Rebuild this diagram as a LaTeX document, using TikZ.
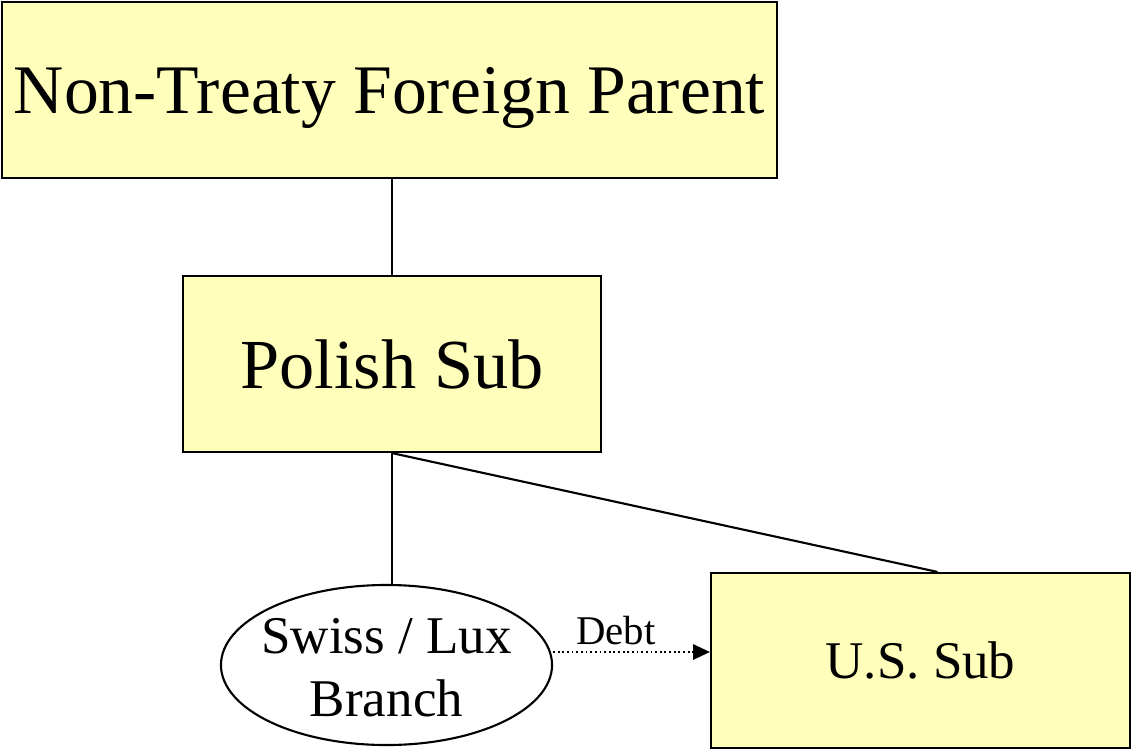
\documentclass[tikz,border=0pt]{standalone}
\usepackage{fontspec}
\setmainfont{Liberation Serif}
\usepackage{xcolor}
\usepackage{tikz}
\definecolor{paleyellow}{RGB}{255,255,187}
\usetikzlibrary{shapes.geometric,arrows.meta}

\tikzset{
  entity/.style={draw, line width=1.5pt, fill=paleyellow, inner sep=0pt, text depth=0pt},
  branch/.style={draw, ellipse, line width=1.5pt, fill=white, inner sep=0pt},
  link/.style={line width=1.5pt}
}

\begin{document}
\begin{tikzpicture}[x=0.025cm, y=-0.025cm]
    \useasboundingbox (0,0) rectangle (1132,750);
    % Parent box
    \node[entity, minimum width=19.375cm, minimum height=4.4cm, font=\fontsize{49.5}{60}\selectfont]
        (parent) at (389.5,90) {Non-Treaty Foreign Parent};

    % Polish sub
    \node[entity, minimum width=10.45cm, minimum height=4.4cm, font=\fontsize{50}{60}\selectfont]
        (polish) at (392,364) {Polish Sub};

    % Branch
    \node[branch, minimum width=8.275cm, minimum height=4cm,
          label={[font=\fontsize{37.7}{44.8}\selectfont, align=center, yshift=-2pt]center:Swiss / Lux\\Branch}]
        (branch) at (386.5,665) {};

    % U.S. sub
    \node[entity, minimum width=10.475cm, minimum height=4.375cm, font=\fontsize{37.7}{44.8}\selectfont]
        (ussub) at (920.5,660.5) {U.S. Sub};

    % Ownership lines
    \draw[link] (parent.south -| polish.north) -- (polish.north);
    \draw[link] (polish.south) -- (polish.south |- branch.north);
    \draw[link] (polish.south) -- ([xshift=0.425cm]ussub.north);

    % Debt
    \coordinate (debtstart) at ([yshift=0.325cm]branch.east);
    \draw[line width=1.3pt, dotted, -{Triangle[length=12pt, width=11pt]}] (debtstart) -- (ussub.west |- debtstart)
        node[pos=0.4, above, yshift=1pt, font=\fontsize{29}{32}\selectfont] (debt) {Debt};
\end{tikzpicture}
\end{document}
